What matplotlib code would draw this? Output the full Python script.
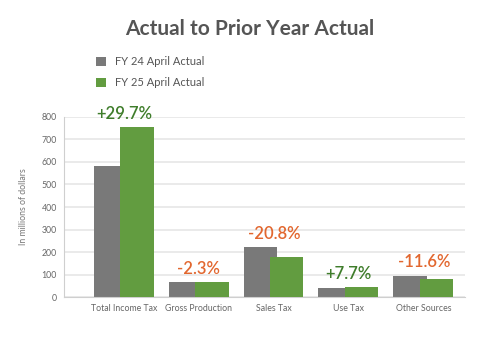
import matplotlib.pyplot as plt
import numpy as np

categories = ["Total Income Tax", "Gross Production", "Sales Tax", "Use Tax", "Other Sources"]
fy24 = [582, 68, 223, 40, 95]
fy25 = [754, 67, 177, 44, 82]
changes = ["+29.7%", "-2.3%", "-20.8%", "+7.7%", "-11.6%"]

gray = "#797979"
green = "#629c40"
txt_green = "#3f7d2b"
txt_orange = "#e2672f"

fig = plt.figure(figsize=(5, 3.51), dpi=100)
ax = fig.add_axes([0.128, 0.1538, 0.802, 0.5129])

x = np.arange(len(categories))
ax.bar(x - 0.18, fy24, width=0.45, color=gray, zorder=2, label="FY 24 April Actual")
ax.bar(x + 0.17, fy25, width=0.45, color=green, zorder=3, label="FY 25 April Actual")

# percent change over each pair
for i, c in enumerate(changes):
    col = txt_green if c.startswith("+") else txt_orange
    ax.annotate(c, (x[i], max(fy24[i], fy25[i])), xytext=(0, 9.5),
                textcoords="offset points", ha="center", va="center",
                fontsize=12, color=col, family="Lato", fontweight="semibold")

ax.set_xlim(-0.8, 4.55)
ax.set_ylim(0, 800)
ax.set_yticks(range(0, 801, 100))
ax.set_xticks(x)
ax.set_xticklabels(categories)
ax.yaxis.grid(True, color="#e8e8e8", linewidth=1.3, zorder=0)
ax.set_axisbelow(True)
for s in ["top", "right"]:
    ax.spines[s].set_visible(False)
ax.spines["left"].set_color("#cfcfcf")
ax.spines["bottom"].set_color("#cfcfcf")
ax.tick_params(axis="both", length=0, labelcolor="#666666", pad=5)
for lbl in ax.get_xticklabels() + ax.get_yticklabels():
    lbl.set_family("Lato")
    lbl.set_fontsize(6.3)
ax.set_ylabel("In millions of dollars", fontsize=6.3, color="#777777",
              family="Lato", labelpad=10)

fig.text(0.5, 0.917, "Actual to Prior Year Actual", ha="center", va="center",
         fontsize=15, fontweight="bold", color="#555555", family="Lato")

leg = fig.legend(loc="upper left", bbox_to_anchor=(0.172, 0.868), frameon=False,
                 handlelength=0.9, handleheight=1.0, handletextpad=0.8,
                 labelspacing=0.9, prop={"family": "Lato", "size": 8})
for t in leg.get_texts():
    t.set_color("#555555")

fig.savefig("out.png", dpi=100)
